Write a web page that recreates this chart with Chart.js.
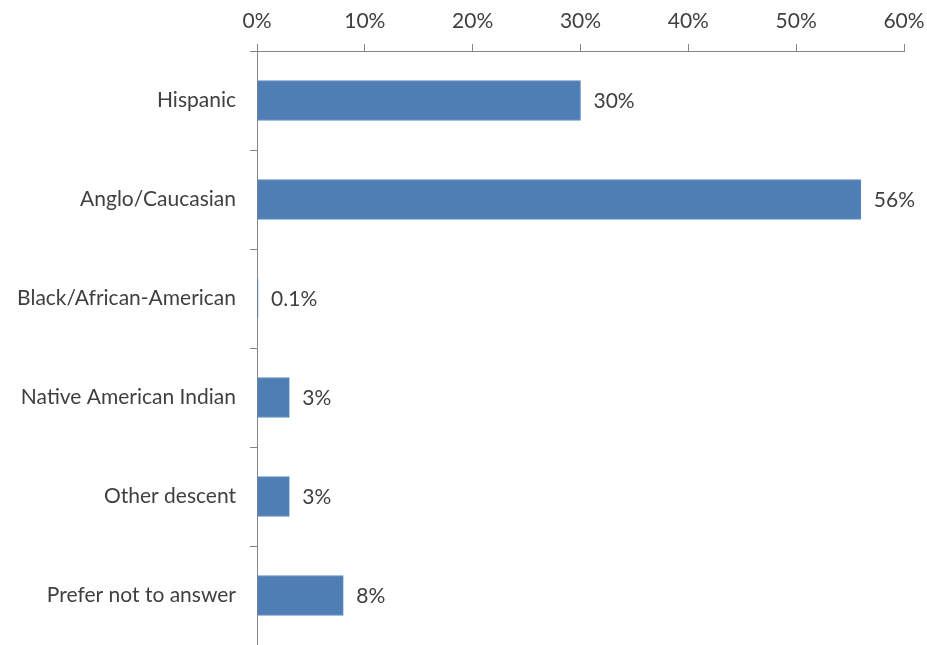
<!DOCTYPE html>
<html>
<head>
<meta charset="utf-8">
<script src="https://cdn.jsdelivr.net/npm/chart.js@4"></script>
<style>
  html, body { margin: 0; padding: 0; background: #fff; }
  #wrap { width: 927px; height: 645px; }
</style>
</head>
<body>
<div id="wrap"><canvas id="c" width="927" height="645"></canvas></div>
<script>
const categories = [
  "Hispanic",
  "Anglo/Caucasian",
  "Black/African-American",
  "Native American Indian",
  "Other descent",
  "Prefer not to answer"
];
const values = [30, 56, 0.1, 3, 3, 8];
const valueLabels = ["30%", "56%", "0.1%", "3%", "3%", "8%"];
const axisMin = 0;
const axisMax = 60;
const axisStep = 10;

const textColor = "#404040";
const axisColor = "#868686";
const fontFamily = "Lato, 'Open Sans', sans-serif";
const fontSize = 21;

// Writes each bar's value just past its end
const valueLabelPlugin = {
  id: "valueLabels",
  afterDatasetsDraw(chart) {
    const ctx = chart.ctx;
    const meta = chart.getDatasetMeta(0);
    ctx.save();
    ctx.font = fontSize + "px " + fontFamily;
    ctx.fillStyle = textColor;
    ctx.textAlign = "left";
    ctx.textBaseline = "middle";
    meta.data.forEach((bar, i) => {
      ctx.fillText(valueLabels[i], bar.x + 13, bar.y + 1);
    });
    ctx.restore();
  }
};

// Fixed axis sizes, no extra room reserved for overhanging labels
function fixX(s) {
  s.height = 51;
  s.paddingLeft = 0;
  s.paddingRight = 0;
}
function fixY(s) {
  s.width = 257;
  s.paddingTop = 0;
  s.paddingBottom = 0;
}

new Chart(document.getElementById("c"), {
  type: "bar",
  data: {
    labels: categories,
    datasets: [{
      data: values,
      backgroundColor: "#4f7eb5",
      borderColor: "#5d8bc2",
      borderWidth: 1,
      barThickness: 40
    }]
  },
  options: {
    indexAxis: "y",
    responsive: false,
    animation: false,
    layout: { autoPadding: false, padding: { left: 0, right: 23, top: 0, bottom: 0 } },
    plugins: {
      legend: { display: false },
      tooltip: { enabled: false }
    },
    scales: {
      x: {
        position: "top",
        min: axisMin,
        max: axisMax,
        ticks: {
          stepSize: axisStep,
          color: textColor,
          font: { family: fontFamily, size: fontSize },
          padding: 10,
          callback: v => v + "%"
        },
        grid: {
          drawOnChartArea: false,
          drawTicks: true,
          tickLength: 7,
          tickColor: axisColor
        },
        border: { display: true, color: axisColor, width: 1 },
        afterFit: fixX
      },
      y: {
        ticks: {
          color: textColor,
          font: { family: fontFamily, size: fontSize },
          padding: 14
        },
        grid: {
          offset: true,
          drawOnChartArea: false,
          drawTicks: true,
          tickLength: 7,
          tickColor: axisColor
        },
        border: { display: true, color: axisColor, width: 1 },
        afterFit: fixY
      }
    }
  },
  plugins: [valueLabelPlugin]
});
</script>
</body>
</html>
